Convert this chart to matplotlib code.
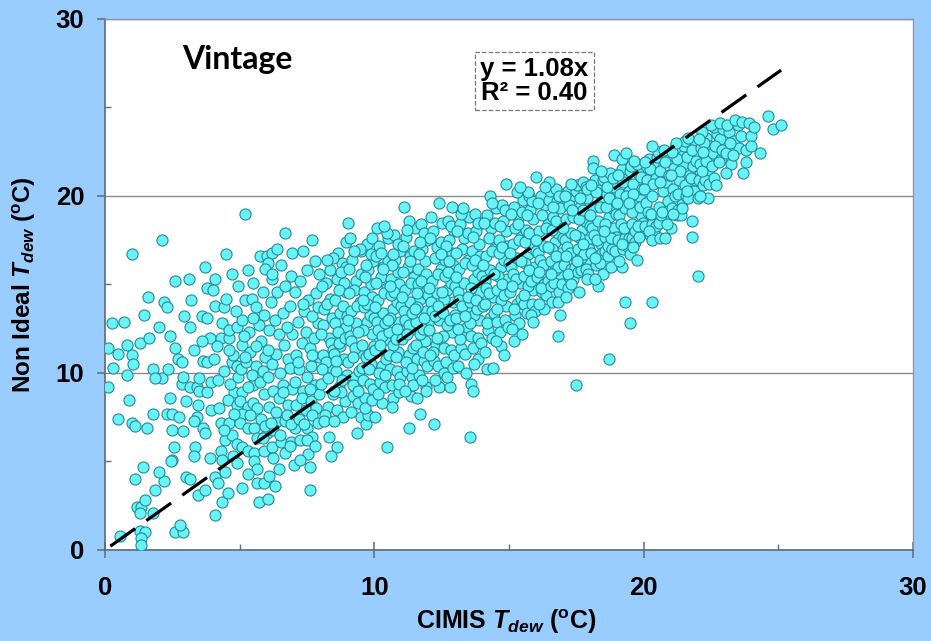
import matplotlib
matplotlib.use("Agg")
import matplotlib.pyplot as plt
import numpy as np

# CIMIS vs non ideal dew point as (x, y) pairs, grouped by x range
pts_0_4 = [(1.0,16.7),(2.1,17.5),(2.6,15.2),(1.6,14.3),(1.45,13.3),(2.2,14.0),(2.3,13.7),(3.2,14.1),(3.7,16.0),(3.8,14.8),
           (0.25,12.8),(0.7,12.9),(0.1,11.4),(0.5,11.1),(0.8,11.6),(1.0,11.0),(1.05,10.5),(0.8,9.9),(1.3,11.7),(0.1,9.2),
           (0.9,8.5),(0.5,7.4),(1.0,7.2),(1.1,7.0),(1.55,6.9),(1.4,4.7),(1.1,4.0),(1.85,3.4),(1.2,2.4),(1.35,2.4),
           (1.5,2.8),(1.3,2.1),(1.8,2.1),(0.55,0.8),(1.3,1.1),(1.5,1.0),(1.35,0.7),(1.35,0.3),(2.6,1.0),(2.9,1.0),
           (2.8,1.4),(2.5,5.1),(2.45,5.0),(2.55,5.8),(1.8,7.7),(2.3,7.7),(2.5,7.7),(2.5,6.8),(2.9,6.7),(2.75,7.5),
           (1.8,10.2),(2.1,9.7),(1.85,9.7),(2.35,10.2),(2.6,11.4),(2.7,10.8),(2.85,10.6),(2.4,12.1),(3.15,12.6),(3.6,13.2),
           (3.8,13.1),(2.85,9.4),(2.9,9.8),(3.15,9.2),(3.4,9.2),(3.5,9.7),(3.65,10.7),(3.8,10.6),(3.5,9.0),(3.8,8.9),
           (3.45,8.2),(3.4,7.5),(3.3,7.3),(3.0,8.4),(3.65,6.9),(3.7,6.6),(3.35,5.8),(3.3,5.3),(3.0,4.1),(3.15,4.0),
           (3.45,3.1),(3.7,3.4),(2.2,3.9),(2.0,4.4),(3.9,12.0),(3.3,11.3),(2.0,12.6),(3.9,5.2),(3.95,7.9),(3.6,11.8),
           (2.95,13.2),(0.3,10.3),(1.65,12.0),(3.1,15.3),(2.4,8.6),(3.95,9.5)]

pts_4_8 = [(4.1,15.3),(4.0,14.7),(4.5,16.7),(4.3,12.0),(4.6,12.0),(4.35,12.8),(4.1,13.8),(4.4,13.7),(4.05,10.8),(4.1,2.0),
           (4.35,2.7),(4.1,4.1),(4.2,3.8),(4.45,4.4),(4.3,5.6),(4.35,5.1),(4.45,6.2),(4.7,6.5),(4.3,7.2),(4.6,7.2),
           (4.8,8.9),(4.55,8.5),(4.9,8.2),(4.7,10.6),(4.9,10.4),(4.75,11.0),(5.1,11.6),(4.6,12.4),(4.9,12.6),(5.1,13.0),
           (5.2,14.1),(5.45,14.2),(5.6,13.7),(5.75,16.6),(6.0,16.6),(6.2,16.8),(6.4,17.0),(6.05,16.2),(6.2,15.3),(6.7,17.9),
           (7.7,17.5),(5.1,8.9),(5.5,9.3),(5.3,9.2),(5.0,8.4),(5.3,8.1),(5.5,8.3),(5.1,7.7),(5.0,7.2),(5.3,6.9),
           (5.55,6.9),(5.65,6.3),(4.9,6.0),(5.1,5.8),(5.3,5.6),(5.55,5.5),(5.55,5.0),(5.65,4.6),(5.65,3.8),(5.9,3.8),
           (6.1,4.2),(5.7,2.7),(6.05,2.9),(5.9,5.6),(6.2,5.8),(6.25,5.2),(7.0,4.8),(7.6,4.7),(7.6,3.4),(6.55,6.1),
           (6.9,6.1),(7.25,6.2),(7.6,6.2),(6.0,6.6),(6.25,6.8),(6.4,7.3),(6.7,7.3),(7.05,6.9),(7.5,6.9),(5.2,19.0),
           (7.7,6.4),(7.5,6.2),
           (4.2,9.6),(4.4,10.1),(4.15,11.5),(4.6,11.3),(4.85,13.5),(4.5,14.2),(4.7,15.6),(4.95,14.9),(4.25,8.0),(4.65,9.4),
           (4.8,7.7),(4.95,9.8),(4.4,6.8),(4.75,5.3),(4.9,4.9),(4.55,3.2),
           (5.05,10.2),(5.25,10.6),(5.4,11.2),(5.6,10.4),(5.8,11.8),(5.35,12.3),(5.7,12.7),(5.9,13.3),(5.5,15.1),(5.85,14.6),
           (5.3,15.8),(5.95,15.9),(5.15,12.1),(5.45,9.9),(5.75,9.5),(5.9,8.8),(5.65,8.0),(5.8,7.4),(5.95,7.0),(5.4,7.6),
           (5.2,10.9),(5.6,11.5),(5.95,10.9),(5.85,10.1),(5.5,13.1),(5.3,4.3),(5.85,6.3),(5.1,3.5),
           (6.05,9.8),(6.2,10.5),(6.35,11.1),(6.5,10.0),(6.65,11.6),(6.8,10.8),(6.95,12.2),(6.1,12.4),(6.3,13.0),(6.45,12.2),
           (6.6,13.4),(6.85,13.8),(6.15,14.0),(6.4,14.6),(6.7,14.9),(6.9,15.5),(6.55,16.1),(6.95,16.8),(6.25,9.0),(6.45,8.6),
           (6.6,9.3),(6.8,8.2),(6.95,9.1),(6.1,8.1),(6.35,7.8),(6.75,7.6),(6.9,7.1),(6.5,6.5),(6.15,7.2),(6.7,5.5),
           (6.45,4.6),(6.85,5.9),(6.3,3.6),(6.6,8.9),(6.05,11.3),(6.75,12.6),(6.2,15.6),(6.85,10.3),
           (7.05,9.5),(7.2,10.2),(7.35,9.0),(7.5,9.8),(7.65,10.4),(7.8,9.3),(7.95,10.9),(7.1,11.0),(7.3,11.7),(7.45,12.3),
           (7.6,11.4),(7.75,12.0),(7.9,12.8),(7.15,12.9),(7.4,13.5),(7.55,14.1),(7.7,13.2),(7.85,14.5),(7.05,14.6),(7.25,15.2),
           (7.5,15.8),(7.8,16.3),(7.35,16.9),(7.95,15.6),(7.1,8.2),(7.3,8.6),(7.45,7.9),(7.65,8.4),(7.85,8.0),(7.2,7.4),
           (7.4,7.1),(7.7,7.6),(7.9,7.2),(7.95,8.8),(7.55,5.4),(7.8,5.9),(7.25,5.1),(7.6,9.1),(7.15,10.6),(7.7,11.0),
           (7.35,13.9),(7.9,13.7)]

pts_8_12 = [(8.03,9.4),(8.11,12.7),(8.27,8.1),(8.36,14.2),(8.08,11.0),(8.44,10.3),(8.19,15.1),(8.31,12.0),(8.47,8.8),(8.14,13.6),
            (8.22,10.6),(8.39,11.7),(8.05,14.9),(8.29,9.7),(8.41,13.1),(8.17,7.6),(8.35,15.8),(8.02,12.2),(8.25,13.9),(8.48,11.3),
            (8.58,10.1),(8.73,13.4),(8.91,8.4),(8.62,15.3),(8.84,11.9),(8.55,12.8),(8.96,14.6),(8.67,9.2),(8.79,16.2),(8.88,10.8),
            (8.53,14.1),(8.71,11.5),(8.94,12.6),(8.6,7.9),(8.82,13.8),(8.66,16.8),(8.99,9.9),(8.76,8.9),(8.51,11.1),(8.87,15.1),
            (8.64,12.3),(8.93,16.0),(8.7,14.7),(8.57,10.7),(8.81,9.6),(8.97,13.2),(8.45,16.5),(8.13,7.3),(8.6,5.8),(8.85,7.5),
            (8.5,7.3),(8.33,6.4),(8.95,17.4),(8.4,5.3),(8.78,15.7),(8.23,16.4),(8.68,11.7),(8.9,12.0),(8.07,10.2),(8.52,9.0),
            (9.04,10.6),(9.12,13.5),(9.21,8.7),(9.33,15.2),(9.09,12.1),(9.42,11.2),(9.18,16.4),(9.29,9.8),(9.46,14.0),(9.15,11.8),
            (9.24,14.7),(9.38,8.3),(9.06,15.9),(9.31,12.8),(9.44,10.1),(9.19,9.3),(9.36,13.8),(9.02,13.0),(9.27,11.4),(9.49,15.6),
            (9.57,9.6),(9.71,12.9),(9.88,10.5),(9.62,14.6),(9.83,13.3),(9.55,11.6),(9.96,16.3),(9.66,8.6),(9.78,15.8),(9.91,12.2),
            (9.52,16.9),(9.69,10.9),(9.93,14.3),(9.61,13.7),(9.84,9.4),(9.74,17.3),(9.98,11.5),(9.58,12.4),(9.8,11.1),(9.89,15.0),
            (9.65,15.4),(9.95,9.1),(9.73,13.9),(9.54,10.3),(9.86,16.7),(9.99,13.1),(9.47,17.0),(9.11,17.6),(9.02,18.5),(9.5,7.5),
            (9.7,7.1),(9.35,6.6),(9.75,7.6),(9.9,17.6),(9.26,16.9),(9.41,9.0),(9.64,8.0),(9.13,7.8),(9.8,10.2),(9.39,12.3),
            (9.07,14.5),(9.59,14.1),(9.92,8.5),(9.22,10.9),(9.68,16.1),
            (10.04,11.3),(10.13,14.1),(10.22,9.5),(10.33,16.0),(10.09,12.9),(10.41,11.9),(10.18,17.2),(10.29,10.4),(10.46,14.8),(10.15,12.4),
            (10.24,15.4),(10.38,9.2),(10.06,16.6),(10.31,13.4),(10.44,10.8),(10.19,10.0),(10.36,14.5),(10.02,13.7),(10.27,12.1),(10.49,16.3),
            (10.57,10.2),(10.71,13.6),(10.88,11.2),(10.62,15.3),(10.83,14.0),(10.55,12.3),(10.96,16.9),(10.66,9.3),(10.78,16.4),(10.91,12.9),
            (10.52,17.6),(10.69,11.6),(10.93,15.0),(10.61,14.4),(10.84,10.1),(10.74,17.8),(10.98,12.2),(10.58,13.1),(10.8,11.9),(10.89,15.7),
            (10.65,16.1),(10.95,9.8),(10.73,14.6),(10.54,11.0),(10.86,17.3),(10.99,13.8),(10.48,17.9),(10.11,18.2),(10.35,18.3),(10.02,7.5),
            (10.46,5.8),(10.28,8.3),(10.7,8.6),(10.9,8.9),(10.26,16.8),(10.41,9.9),(10.64,8.1),(10.13,8.8),(10.8,10.9),(10.39,12.8),
            (10.07,15.1),(10.59,14.9),(10.92,9.4),(10.22,11.6),(10.68,16.7),(10.5,13.0),(10.85,12.5),(10.31,15.9),
            (11.04,11.9),(11.13,14.7),(11.22,10.1),(11.33,16.6),(11.09,13.5),(11.41,12.5),(11.18,17.7),(11.29,11.0),(11.46,15.4),(11.15,13.0),
            (11.24,16.0),(11.38,9.8),(11.06,17.2),(11.31,14.0),(11.44,11.4),(11.19,10.6),(11.36,15.1),(11.02,14.3),(11.27,12.7),(11.49,16.9),
            (11.57,10.8),(11.71,14.2),(11.88,11.8),(11.62,15.9),(11.83,14.6),(11.55,12.9),(11.96,17.5),(11.66,9.9),(11.78,17.0),(11.91,13.5),
            (11.52,18.2),(11.69,12.2),(11.93,15.6),(11.61,15.0),(11.84,10.7),(11.74,18.4),(11.98,12.8),(11.58,13.7),(11.8,12.5),(11.89,16.3),
            (11.65,16.7),(11.95,10.4),(11.73,15.2),(11.54,11.6),(11.86,17.9),(11.99,14.4),(11.1,19.4),(11.3,18.6),(11.27,6.9),(11.7,7.7),
            (11.37,8.7),(11.6,8.6),(11.9,9.2),(11.45,9.3),(11.2,18.1),(11.4,10.3),(11.76,9.6),(11.12,9.0),(11.82,11.2),(11.39,13.4),
            (11.07,15.7),(11.59,14.5),(11.92,9.0),(11.22,12.2),(11.68,17.4),(11.5,13.6),(11.85,13.1),(11.33,16.3)]

pts_12_16 = [(12.04,12.4),(12.13,15.2),(12.22,10.7),(12.33,17.1),(12.09,14.0),(12.41,13.0),(12.18,18.0),(12.29,11.6),(12.46,15.9),(12.15,13.5),
             (12.24,16.5),(12.38,10.4),(12.06,17.6),(12.31,14.5),(12.44,11.9),(12.19,11.2),(12.36,15.6),(12.02,14.8),(12.27,13.2),(12.49,17.4),
             (12.57,11.4),(12.71,14.7),(12.88,12.3),(12.62,16.4),(12.83,15.1),(12.55,13.4),(12.96,18.0),(12.66,10.6),(12.78,17.5),(12.91,14.0),
             (12.52,18.5),(12.69,12.7),(12.93,16.1),(12.61,15.5),(12.84,11.3),(12.74,18.6),(12.98,13.3),(12.58,14.2),(12.8,13.0),(12.89,16.8),
             (12.65,17.2),(12.95,11.0),(12.73,15.7),(12.54,12.1),(12.86,18.3),(12.99,14.9),(12.4,19.6),(12.9,19.4),(12.2,7.1),(12.4,9.2),
             (12.8,9.2),(12.25,9.6),(12.6,10.0),(12.12,18.8),(12.47,16.7),(12.33,12.0),(12.7,9.8),(12.08,11.0),(12.92,10.3),(12.5,14.6),
             (12.37,13.8),(12.77,16.3),
             (13.04,13.1),(13.13,15.9),(13.22,11.4),(13.33,17.6),(13.09,14.6),(13.41,13.6),(13.18,18.4),(13.29,12.3),(13.46,16.4),(13.15,14.1),
             (13.24,17.0),(13.38,11.1),(13.06,18.0),(13.31,15.1),(13.44,12.6),(13.19,11.9),(13.36,16.2),(13.02,15.4),(13.27,13.8),(13.49,17.9),
             (13.57,12.1),(13.71,15.3),(13.88,13.0),(13.62,16.9),(13.83,15.7),(13.55,14.0),(13.96,18.5),(13.66,11.4),(13.78,18.0),(13.91,14.6),
             (13.52,18.8),(13.69,13.3),(13.93,16.6),(13.61,16.1),(13.84,12.0),(13.74,19.0),(13.98,13.9),(13.58,14.8),(13.8,13.6),(13.89,17.3),
             (13.65,17.7),(13.95,11.7),(13.73,16.4),(13.54,12.8),(13.86,18.5),(13.99,15.5),(13.2,19.0),(13.55,6.4),(13.6,9.4),(13.65,9.0),
             (13.1,10.4),(13.4,10.0),(13.85,10.8),(13.3,19.3),(13.7,10.5),(13.12,12.5),(13.47,14.3),(13.35,13.2),(13.76,14.1),(13.03,16.8),
             (14.04,13.8),(14.13,16.6),(14.22,12.4),(14.33,18.2),(14.09,15.2),(14.41,14.3),(14.18,18.9),(14.29,13.1),(14.46,17.0),(14.15,14.8),
             (14.24,17.6),(14.38,12.0),(14.06,18.5),(14.31,15.8),(14.44,13.4),(14.19,12.8),(14.36,16.9),(14.02,16.1),(14.27,14.5),(14.49,18.5),
             (14.57,12.9),(14.71,16.0),(14.88,13.8),(14.62,17.5),(14.83,16.4),(14.55,14.7),(14.96,19.0),(14.66,12.3),(14.78,18.6),(14.91,15.3),
             (14.52,19.3),(14.69,14.1),(14.93,17.2),(14.61,16.8),(14.84,13.0),(14.74,19.5),(14.98,14.6),(14.58,15.5),(14.8,14.4),(14.89,18.0),
             (14.65,18.3),(14.95,12.6),(14.73,17.1),(14.54,13.6),(14.86,19.2),(14.99,16.2),(14.3,20.0),(14.9,20.7),(14.2,10.2),(14.4,10.3),
             (14.7,11.5),(14.1,11.2),(14.5,11.8),(14.35,19.6),(14.8,11.0),(14.12,13.9),(14.45,15.6),(14.75,15.0),
             (15.04,14.6),(15.13,17.3),(15.22,13.3),(15.33,18.8),(15.09,16.0),(15.41,15.1),(15.18,19.4),(15.29,13.9),(15.46,17.7),(15.15,15.6),
             (15.24,18.2),(15.38,12.8),(15.06,19.0),(15.31,16.5),(15.44,14.2),(15.19,13.6),(15.36,17.5),(15.02,16.8),(15.27,15.3),(15.49,19.1),
             (15.57,13.9),(15.71,16.7),(15.88,14.7),(15.62,18.1),(15.83,17.1),(15.55,15.5),(15.96,19.6),(15.66,13.4),(15.78,19.2),(15.91,16.0),
             (15.52,19.8),(15.69,14.9),(15.93,17.8),(15.61,17.4),(15.84,13.9),(15.74,20.0),(15.98,15.4),(15.58,16.2),(15.8,15.2),(15.89,18.7),
             (15.65,18.9),(15.95,13.5),(15.73,17.9),(15.54,14.4),(15.86,19.7),(15.99,16.9),(15.3,20.2),(15.7,20.2),(15.2,11.8),(15.8,13.3),
             (15.1,12.5),(15.5,12.2),(15.4,20.5),(15.9,12.9),(15.12,14.9),(15.45,16.3),(15.75,15.8),(15.35,18.4)]

pts_16_20 = [(16.04,15.4),(16.13,18.0),(16.22,14.6),(16.33,19.5),(16.09,16.8),(16.41,15.9),(16.18,20.0),(16.29,15.0),(16.46,18.4),(16.15,16.4),
             (16.24,18.9),(16.38,14.4),(16.06,19.6),(16.31,17.2),(16.44,15.2),(16.19,14.8),(16.36,18.2),(16.02,17.5),(16.27,16.1),(16.49,19.8),
             (16.57,14.9),(16.71,17.4),(16.88,15.6),(16.62,18.8),(16.83,17.9),(16.55,16.3),(16.96,20.1),(16.66,15.1),(16.78,19.7),(16.91,16.8),
             (16.52,20.3),(16.69,15.8),(16.93,18.5),(16.61,18.1),(16.84,14.6),(16.74,20.4),(16.98,16.3),(16.58,17.0),(16.8,16.0),(16.89,19.3),
             (16.65,19.4),(16.95,15.0),(16.73,18.6),(16.54,15.6),(16.86,20.0),(16.99,17.6),(16.0,21.1),(16.6,14.0),(16.8,14.0),(16.8,12.1),
             (16.3,13.6),(16.5,20.8),(16.1,13.9),(16.9,13.3),(16.12,15.7),(16.45,17.1),(16.75,16.6),(16.35,20.5),
             (17.04,16.1),(17.13,18.7),(17.22,15.4),(17.33,20.0),(17.09,17.5),(17.41,16.6),(17.18,20.3),(17.29,15.9),(17.46,19.0),(17.15,17.1),
             (17.24,19.5),(17.38,15.3),(17.06,20.0),(17.31,17.9),(17.44,16.0),(17.19,15.6),(17.36,18.8),(17.02,18.2),(17.27,16.8),(17.49,20.3),
             (17.57,15.7),(17.71,18.1),(17.88,16.4),(17.62,19.4),(17.83,18.6),(17.55,17.0),(17.96,20.6),(17.66,15.8),(17.78,20.2),(17.91,17.5),
             (17.52,20.6),(17.69,16.5),(17.93,19.1),(17.61,18.7),(17.84,15.9),(17.74,20.8),(17.98,17.0),(17.58,17.7),(17.8,16.7),(17.89,19.9),
             (17.65,19.9),(17.95,15.6),(17.73,19.2),(17.54,16.3),(17.86,20.5),(17.99,18.3),(17.3,20.7),(17.9,20.4),(17.5,9.3),(17.2,14.8),
             (17.3,15.0),(17.6,14.6),(17.9,15.3),(17.1,14.3),(17.12,16.6),(17.45,17.8),(17.75,17.3),(17.35,19.2),
             (18.04,16.8),(18.13,19.4),(18.22,16.1),(18.33,20.6),(18.09,18.2),(18.41,17.3),(18.18,20.9),(18.29,16.6),(18.46,19.7),(18.15,17.8),
             (18.24,20.2),(18.38,16.2),(18.06,20.6),(18.31,18.6),(18.44,16.8),(18.19,16.5),(18.36,19.4),(18.02,18.9),(18.27,17.5),(18.49,20.9),
             (18.57,16.9),(18.71,18.8),(18.88,17.3),(18.62,20.1),(18.83,19.3),(18.55,17.7),(18.96,21.2),(18.66,16.6),(18.78,20.8),(18.91,18.2),
             (18.52,21.1),(18.69,17.2),(18.93,19.8),(18.61,19.4),(18.84,17.0),(18.74,21.3),(18.98,17.7),(18.58,18.4),(18.8,17.6),(18.89,20.5),
             (18.65,20.5),(18.95,16.9),(18.73,19.9),(18.54,18.0),(18.86,21.0),(18.99,19.0),(18.1,22.0),(18.1,21.6),(18.9,22.3),(18.3,14.9),
             (18.7,10.8),(18.5,15.6),(18.2,15.3),(18.8,16.0),(18.4,21.4),
             (19.04,17.5),(19.13,20.1),(19.22,17.0),(19.33,21.2),(19.09,18.9),(19.41,18.0),(19.18,21.5),(19.29,17.6),(19.46,20.3),(19.15,18.4),
             (19.24,20.8),(19.38,17.2),(19.06,21.2),(19.31,19.3),(19.44,17.6),(19.19,17.3),(19.36,20.0),(19.02,19.6),(19.27,18.2),(19.49,21.4),
             (19.57,17.6),(19.71,19.5),(19.88,18.0),(19.62,20.7),(19.83,20.0),(19.55,18.4),(19.96,21.6),(19.66,17.4),(19.78,21.3),(19.91,18.9),
             (19.52,21.7),(19.69,18.0),(19.93,20.4),(19.61,20.1),(19.84,17.7),(19.74,21.8),(19.98,18.5),(19.58,19.1),(19.8,18.3),(19.89,21.1),
             (19.2,22.1),(19.5,12.8),(19.3,14.0),(19.2,16.0),(19.5,16.7),(19.6,17.1),(19.1,16.3),(19.65,22.0),(19.35,22.4),(19.75,16.4),
             (19.45,19.6),(19.85,19.4)]

pts_20_25 = [(20.04,18.3),(20.13,20.9),(20.22,17.8),(20.33,21.8),(20.09,19.6),(20.41,18.8),(20.18,22.1),(20.29,18.4),(20.46,21.0),(20.15,19.1),
             (20.24,21.5),(20.38,18.0),(20.06,21.9),(20.31,20.0),(20.44,18.3),(20.19,18.0),(20.36,20.7),(20.02,20.4),(20.27,19.0),(20.49,22.2),
             (20.57,18.5),(20.71,20.3),(20.88,19.0),(20.62,21.4),(20.83,20.8),(20.55,19.4),(20.96,22.3),(20.66,18.9),(20.78,21.9),(20.91,19.7),
             (20.52,22.5),(20.69,19.1),(20.93,21.2),(20.61,20.8),(20.3,22.8),(20.3,14.0),(20.3,17.5),(20.6,17.6),(20.8,17.6),(21.0,18.2),
             (20.75,22.6),(20.85,18.4),
             (21.04,19.3),(21.13,21.6),(21.22,18.9),(21.33,22.4),(21.09,20.4),(21.41,19.7),(21.18,22.7),(21.29,19.2),(21.46,21.8),(21.15,20.0),
             (21.24,22.1),(21.38,18.9),(21.06,22.5),(21.31,20.9),(21.44,19.3),(21.36,21.4),(21.02,21.2),(21.27,20.1),(21.49,22.8),(21.57,20.0),
             (21.71,21.2),(21.88,20.3),(21.62,22.2),(21.83,21.7),(21.55,20.6),(21.96,23.0),(21.66,19.9),(21.78,22.6),(21.91,20.9),(21.52,23.1),
             (21.6,20.3),(21.8,18.6),(21.8,17.7),(21.1,19.0),(21.93,22.0),(21.74,21.0),(21.2,23.0),(21.65,23.3),
             (22.04,20.9),(22.13,22.7),(22.22,20.6),(22.33,23.3),(22.09,21.8),(22.41,21.2),(22.18,23.6),(22.29,20.9),(22.46,22.8),(22.15,21.4),
             (22.24,23.0),(22.38,22.1),(22.06,23.2),(22.31,22.0),(22.44,20.7),(22.57,22.4),(22.71,23.5),(22.88,22.1),(22.62,23.9),(22.83,23.2),
             (22.55,21.7),(22.96,23.8),(22.66,22.8),(22.78,21.9),(22.91,22.6),(22.0,15.5),(22.0,19.9),(22.4,19.9),(22.6,21.0),(22.5,24.0),
             (22.85,24.1),(22.2,22.5),(22.7,20.6),(22.1,20.0),
             (23.05,22.4),(23.15,23.6),(23.25,21.8),(23.35,23.1),(23.45,24.2),(23.55,22.7),(23.1,24.0),(23.3,22.3),(23.5,24.0),(23.6,23.4),
             (23.7,21.3),(23.8,21.9),(23.8,22.6),(24.0,23.4),(24.0,22.8),(23.2,23.0),(23.4,24.3),(23.65,24.2),(23.9,24.1),(23.05,21.3),
             (24.6,24.5),(24.8,23.8),(25.1,24.0),(24.3,22.4),(24.1,23.9)]

slope = 1.08
r2 = 0.40
fit_x = [0.2, 25.1]

all_pts = pts_0_4 + pts_4_8 + pts_8_12 + pts_12_16 + pts_16_20 + pts_20_25
cimis_x = np.array([p[0] for p in all_pts])
nonideal_y = np.array([p[1] for p in all_pts])

plt.rcParams['font.family'] = ['Liberation Sans', 'DejaVu Sans']
plt.rcParams['mathtext.fontset'] = 'custom'
plt.rcParams['mathtext.rm'] = 'Liberation Sans:bold'
plt.rcParams['mathtext.it'] = 'Liberation Sans:italic:bold'
plt.rcParams['mathtext.bf'] = 'Liberation Sans:bold'

bg = '#99ccff'
fig = plt.figure(figsize=(9.31, 6.41), dpi=100, facecolor=bg)
ax = fig.add_axes([0.1128, 0.142, 0.8679, 0.8284])
ax.set_facecolor('white')

ax.scatter(cimis_x, nonideal_y, s=64, c='#66f4f7', edgecolors='#2a8796', linewidths=0.8, zorder=3)
fx = np.array(fit_x)
ax.plot(fx, slope * fx, color='black', lw=2.3, dashes=(9.5, 4.3), zorder=4)

ax.set_xlim(0, 30)
ax.set_ylim(0, 30)
ax.set_xticks([0, 10, 20, 30])
ax.set_yticks([0, 10, 20, 30])
ax.set_xticks([5, 15, 25], minor=True)
ax.set_yticks([5, 15, 25], minor=True)
ax.yaxis.grid(True, which='major', color='#8c8c8c', lw=1.0, zorder=1)
ax.set_axisbelow(True)

for s in ['left', 'bottom']:
    ax.spines[s].set_color('#5d6b7a')
    ax.spines[s].set_linewidth(1.2)
for s in ['top', 'right']:
    ax.spines[s].set_color('#8c96a0')
    ax.spines[s].set_linewidth(1.0)

ax.tick_params(axis='x', which='major', direction='inout', length=12, width=1.1, color='#5d6b7a', pad=13)
ax.tick_params(axis='y', which='major', direction='out', length=6, width=1.1, color='#5d6b7a', pad=9)
ax.tick_params(which='minor', direction='in', length=4.5, width=1.0, color='#5d6b7a')
for lab in ax.get_xticklabels() + ax.get_yticklabels():
    lab.set_fontsize(18.5)
    lab.set_fontweight('bold')

ax.set_xlabel(r'CIMIS $T_{dew}$ ($^{\rm o}$C)', fontsize=18, fontweight='bold')
ax.set_ylabel(r'Non Ideal $T_{dew}$ ($^{\rm o}$C)', fontsize=17.5, fontweight='bold')
ax.xaxis.set_label_coords(0.496, -0.108)
ax.yaxis.set_label_coords(-0.083, 0.5)

ax.text(2.86, 27.7, 'Vintage', fontsize=23, fontweight='bold', family=['Lato', 'DejaVu Sans'],
        va='center', ha='left')
ax.text(15.95, 26.5, f'y = {slope:.2f}x\nR² = {r2:.2f}', fontsize=18.5, fontweight='bold',
        va='center', ha='center', linespacing=1.0,
        bbox=dict(boxstyle='square,pad=0.2', facecolor='white', edgecolor='#777777', ls='--', lw=0.9))

fig.savefig('out.png', dpi=100, facecolor=bg)
